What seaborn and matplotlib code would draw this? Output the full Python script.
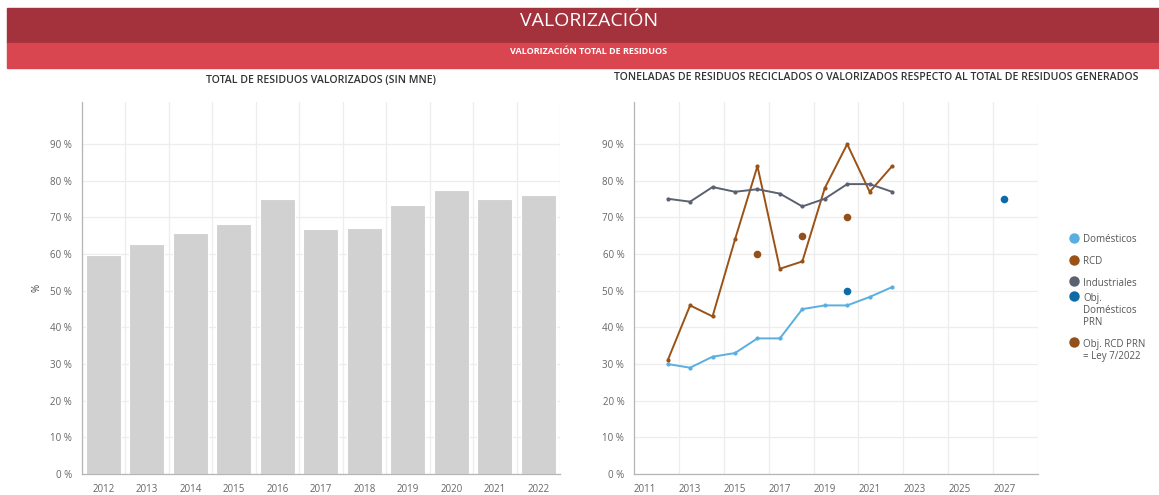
import numpy as np
import pandas as pd
import seaborn as sns
import matplotlib.pyplot as plt
from matplotlib.lines import Line2D
from matplotlib.patches import Rectangle
from matplotlib.ticker import FuncFormatter

sns.set_theme(style="white")
plt.rcParams['font.family'] = ['Open Sans', 'DejaVu Sans']

# ---- data ----
years = [2012, 2013, 2014, 2015, 2016, 2017, 2018, 2019, 2020, 2021, 2022]
total_valorizado = [59.8, 62.7, 65.8, 68.1, 75.1, 66.9, 67.1, 73.3, 77.4, 75.0, 76.1]

domesticos = [30, 29, 32, 33, 37, 37, 45, 46, 46, 48.3, 51]
rcd = [31, 46, 43, 64, 84, 56, 58, 78, 90, 77, 84]
industriales = [75.1, 74.3, 78.3, 77, 77.7, 76.5, 73, 75.1, 79.1, 79.1, 77]

obj_dom_years = [2020, 2027]
obj_dom_values = [50, 75]
obj_rcd_years = [2016, 2018, 2020]
obj_rcd_values = [60, 65, 70]

c_dom = "#5AAEE0"
c_rcd = "#9A5217"
c_ind = "#5B6171"
c_obj_dom = "#0F6BA8"
c_obj_rcd = "#93501A"
grid_c = "#EDEDED"
axis_c = "#B5B5B5"
tick_c = "#666666"

W, H = 1159, 495
fig = plt.figure(figsize=(W / 100, H / 100), dpi=100)

# ---- header bands ----
fig.patches.append(Rectangle((7 / W, 1 - 43 / H), 1, 35 / H, transform=fig.transFigure,
                             color="#A3323D", zorder=0))
fig.patches.append(Rectangle((7 / W, 1 - 68 / H), 1, 25 / H, transform=fig.transFigure,
                             color="#D9464F", zorder=0))
fig.text(589 / W, 1 - 21 / H, "VALORIZACIÓN", color="white", fontsize=14,
         ha="center", va="center")
fig.text(589 / W, 1 - 51 / H, "VALORIZACIÓN TOTAL DE RESIDUOS", color="white",
         fontsize=6.5, fontweight="bold", ha="center", va="center")

pct = FuncFormatter(lambda v, p: f"{int(v)} %")


def style_axes(ax):
    for s in ["top", "right"]:
        ax.spines[s].set_visible(False)
    for s in ["left", "bottom"]:
        ax.spines[s].set_color(axis_c)
        ax.spines[s].set_linewidth(0.9)
    ax.tick_params(axis="both", colors=axis_c, labelcolor=tick_c, labelsize=7,
                   length=4, width=0.8, pad=3)
    ax.set_ylim(0, 101.5)
    ax.set_yticks(np.arange(0, 100, 10))
    ax.yaxis.set_major_formatter(pct)
    ax.grid(axis="y", color=grid_c, linewidth=0.9)
    ax.set_axisbelow(True)


# ---- left: bar chart ----
ax1 = fig.add_axes([81.5 / W, 1 - 474 / H, (560 - 81.5) / W, (474 - 102) / H])
bars = pd.DataFrame({"year": [str(y) for y in years], "valor": total_valorizado})
sns.barplot(data=bars, x="year", y="valor", color="#D1D1D1", saturation=1,
            width=0.81, edgecolor="white", linewidth=0.8, ax=ax1)
style_axes(ax1)
ax1.set_xlim(-0.5, len(years) - 0.5)
ax1.set_xticks(np.arange(-0.5, len(years), 1), minor=True)
ax1.grid(axis="x", which="minor", color=grid_c, linewidth=0.9)
ax1.tick_params(axis="x", which="minor", length=0)
ax1.set_xlabel("")
ax1.set_ylabel("%", fontsize=7, color="#444444", labelpad=5)
ax1.set_title("TOTAL DE RESIDUOS VALORIZADOS (SIN MNE)", fontsize=7.6,
              fontweight="semibold", color="#333333", pad=14)

# ---- right: lines ----
ax2 = fig.add_axes([634 / W, 1 - 474 / H, (1038 - 634) / W, (474 - 102) / H])
lines = pd.DataFrame({
    "year": years * 3,
    "valor": domesticos + rcd + industriales,
    "serie": ["Domésticos"] * 11 + ["RCD"] * 11 + ["Industriales"] * 11,
})
sns.lineplot(data=lines, x="year", y="valor", hue="serie",
             palette={"Domésticos": c_dom, "RCD": c_rcd, "Industriales": c_ind},
             marker="o", markersize=3, markeredgewidth=0, linewidth=1.4,
             legend=False, ax=ax2)
sns.scatterplot(x=obj_dom_years, y=obj_dom_values, color=c_obj_dom, s=30,
                linewidth=0, ax=ax2, zorder=5)
sns.scatterplot(x=obj_rcd_years, y=obj_rcd_values, color=c_obj_rcd, s=30,
                linewidth=0, ax=ax2, zorder=5)
style_axes(ax2)
ax2.set_xlim(2010.5, 2028.5)
ax2.set_xticks(np.arange(2011, 2028, 2))
ax2.set_xticks(np.arange(2012.5, 2029, 2), minor=True)
ax2.grid(axis="x", which="minor", color=grid_c, linewidth=0.9)
ax2.tick_params(axis="x", which="minor", length=0)
ax2.set_xlabel("")
ax2.set_ylabel("")
fig.text(876 / W, 1 - 78 / H,
         "TONELADAS DE RESIDUOS RECICLADOS O VALORIZADOS RESPECTO AL TOTAL DE RESIDUOS GENERADOS",
         fontsize=7.6, fontweight="semibold", color="#333333", ha="center", va="center")

# ---- legend (marker aligned with first text line) ----
labels = ["Domésticos", "RCD", "Industriales", "Obj.\nDomésticos\nPRN", "Obj. RCD PRN\n= Ley 7/2022"]
colors = [c_dom, c_rcd, c_ind, c_obj_dom, c_obj_rcd]
first_line_y = [238, 260, 281, 296, 342]
for lab, col, yy in zip(labels, colors, first_line_y):
    fig.add_artist(Line2D([1074 / W], [1 - yy / H], marker="o", linestyle="",
                          markersize=7.5, color=col, markeredgewidth=0,
                          transform=fig.transFigure))
    fig.text(1083 / W, 1 - (yy - 3.5) / H, lab, fontsize=7, color="#555555",
             ha="left", va="top", linespacing=1.15)

fig.savefig("out.png", dpi=100)
